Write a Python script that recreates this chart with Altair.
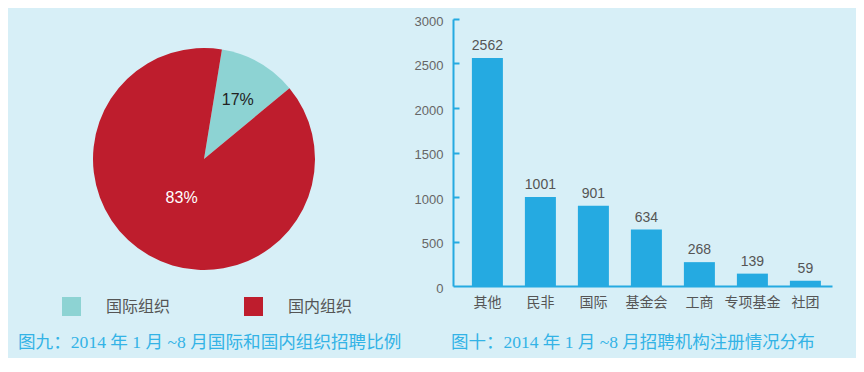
import math
import altair as alt
import pandas as pd

# ---------------- data ----------------
pie_labels = ["国际组织", "国内组织"]
pie_shares = [11.4, 88.6]          # angular shares as drawn in the picture
pie_texts = ["17%", "83%"]
pie_colors = ["#8dd3d3", "#be1d2d"]

bar_cats = ["其他", "民非", "国际", "基金会", "工商", "专项基金", "社团"]
bar_vals = [2562, 1001, 901, 634, 268, 139, 59]
y_ticks = [0, 500, 1000, 1500, 2000, 2500, 3000]

caption_left = "图九：2014 年 1 月 ~8 月国际和国内组织招聘比例"
caption_right = "图十：2014 年 1 月 ~8 月招聘机构注册情况分布"

# ---------------- styles ----------------
BG = "#d7eff7"
BLUE = "#25aae1"
CAP = "#33b3e6"
GRAY = "#555555"
CJK = "Noto Sans CJK SC"
LAT = "Liberation Sans"
CAPFONT = "Liberation Serif, Noto Sans CJK SC"

W, H = 848, 350
AX_X = 445      # y-axis position inside the view
AX_Y = 278      # x-axis position inside the view

# ---------------- pie ----------------
pie_df = pd.DataFrame({"org": pie_labels, "share": pie_shares,
                       "pct": pie_texts, "ord": list(range(len(pie_labels)))})
start = math.radians(9.3)
theta_scale = alt.Scale(range=[start, start + 2 * math.pi])

pie_base = alt.Chart(pie_df).encode(
    theta=alt.Theta("share:Q", stack=True, scale=theta_scale),
    order=alt.Order("ord:Q"),
    x=alt.value(196),
    y=alt.value(151),
)

arcs = pie_base.mark_arc(outerRadius=111).encode(
    color=alt.Color(
        "org:N",
        scale=alt.Scale(domain=pie_labels, range=pie_colors),
        legend=alt.Legend(
            title=None, orient="none", legendX=54, legendY=289,
            direction="horizontal", symbolType="square", symbolSize=361,
            symbolStrokeWidth=0, symbolOpacity=1,
            labelFont=CJK, labelFontSize=16, labelColor=GRAY,
            labelOffset=25, columnPadding=73, padding=0,
        ),
    )
)

lab_small = pie_base.mark_text(radius=68, font=LAT, fontSize=16, color="#222222").encode(
    text=alt.condition("datum.ord == 0", "pct:N", alt.value(""))
)
lab_big = pie_base.mark_text(radius=45, font=LAT, fontSize=16, color="#ffffff").encode(
    text=alt.condition("datum.ord == 1", "pct:N", alt.value(""))
)

pie_group = alt.layer(arcs, lab_small, lab_big)

# ---------------- bars ----------------
bar_df = pd.DataFrame({"cat": bar_cats, "val": bar_vals})
xs = alt.Scale(domain=bar_cats, range=[AX_X, 824], paddingInner=0.415,
               paddingOuter=0.283, align=0.63)


def yscale():
    return alt.Scale(domain=[0, 3000], range=[AX_Y, 11], nice=False, zero=True)


xaxis = alt.Axis(title=None, orient="bottom", offset=-(H - AX_Y), domainColor=BLUE,
                 domainWidth=2, ticks=False, grid=False, labelAngle=0,
                 labelFont=CJK, labelFontSize=14, labelColor=GRAY, labelPadding=9)
yaxis = alt.Axis(title=None, orient="left", offset=-AX_X, values=y_ticks, ticks=False,
                 format="d", domainColor=BLUE, domainWidth=2, grid=False,
                 labelFont=LAT, labelFontSize=13, labelColor="#666666",
                 labelPadding=10, labelOffset=2)
# inward ticks: a right-oriented axis placed on the same line, labels hidden
tick_axis = alt.Axis(title=None, orient="right", offset=-(W - AX_X), values=y_ticks[1:],
                     labels=False, domain=False, grid=False, ticks=True,
                     tickColor=BLUE, tickWidth=2, tickSize=6)

bars = alt.Chart(bar_df).mark_bar(color=BLUE).encode(
    x=alt.X("cat:N", scale=xs, axis=xaxis, sort=bar_cats),
    y=alt.Y("val:Q", scale=yscale(), axis=yaxis),
)
bar_text = alt.Chart(bar_df).mark_text(dy=-8, baseline="alphabetic", font=LAT,
                                       fontSize=14, color=GRAY).encode(
    x=alt.X("cat:N", scale=xs, axis=xaxis, sort=bar_cats),
    y=alt.Y("val:Q", scale=yscale(), axis=yaxis),
    text="val:Q",
)
bar_group = alt.layer(bars, bar_text)

tick_df = pd.DataFrame({"v": y_ticks})
tick_layer = alt.Chart(tick_df).mark_point(opacity=0).encode(
    y=alt.Y("v:Q", scale=yscale(), axis=tick_axis),
    x=alt.value(AX_X),
)

# ---------------- captions ----------------
cap_l = alt.Chart(pd.DataFrame({"t": [caption_left]})).mark_text(
    align="left", baseline="middle", font=CAPFONT, fontSize=17.6, color=CAP
).encode(x=alt.value(10), y=alt.value(335), text="t:N")
cap_r = alt.Chart(pd.DataFrame({"t": [caption_right]})).mark_text(
    align="left", baseline="middle", font=CAPFONT, fontSize=17.5, color=CAP
).encode(x=alt.value(443), y=alt.value(335), text="t:N")

chart = alt.layer(pie_group, bar_group, tick_layer, cap_l, cap_r).resolve_scale(
    x="independent", y="independent"
).properties(
    width=W, height=H, autosize=alt.AutoSizeParams(type="none"), padding=0,
    background=BG,
).configure_view(stroke=None)

chart.save("out.html", embed_options={"renderer": "svg", "actions": False})
